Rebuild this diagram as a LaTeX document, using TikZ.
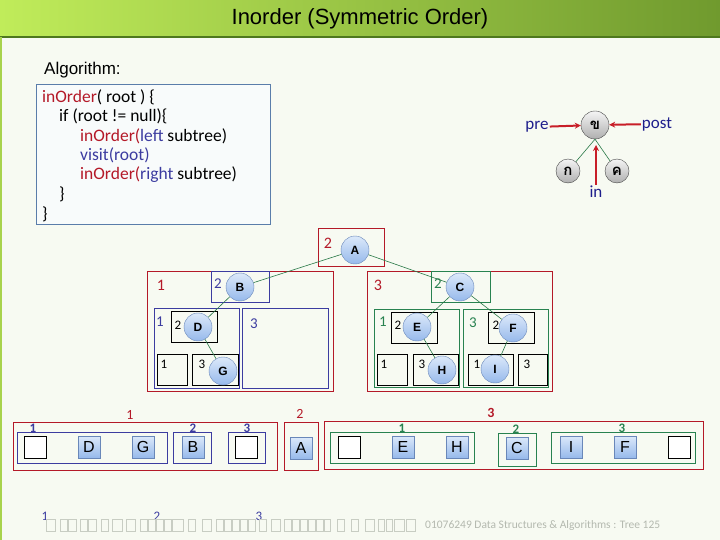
\documentclass[tikz,border=0pt]{standalone}
\usepackage{fontspec}
\setmainfont{Carlito}
\newfontfamily\thaifont[Script=Thai]{Loma}
\newfontfamily\titlefont{Liberation Sans}
\newfontfamily\letfont{Liberation Sans}
\usetikzlibrary{arrows.meta}
\definecolor{bgc}{RGB}{247,250,242}
\definecolor{tl}{RGB}{192,236,90}
\definecolor{tr}{RGB}{112,154,46}
\definecolor{tbline}{RGB}{78,120,30}
\definecolor{codeborder}{RGB}{90,125,170}
\definecolor{codefill}{RGB}{248,251,251}
\definecolor{kred}{RGB}{180,25,40}
\definecolor{kblue}{RGB}{60,60,160}
\definecolor{kgreen}{RGB}{40,130,80}
\definecolor{edgec}{RGB}{40,120,70}
\definecolor{cbord}{RGB}{105,135,185}
\definecolor{ctop}{RGB}{220,233,250}
\definecolor{cbot}{RGB}{150,185,235}
\definecolor{arrred}{RGB}{200,30,40}
\definecolor{navy}{RGB}{30,30,140}
\definecolor{foot}{RGB}{200,205,195}
\tikzset{
  cnode/.style={circle, minimum size=28pt, inner sep=0pt, draw=cbord, top color=ctop, bottom color=cbot, font=\letfont\bfseries\fontsize{12}{14}\selectfont},
  tnode/.style={circle, inner sep=0pt, draw={rgb,255:red,70;green,70;blue,70}, top color={rgb,255:red,245;green,245;blue,245}, bottom color={rgb,255:red,175;green,175;blue,175}, font=\thaifont\bfseries\fontsize{15}{17}\selectfont},
  sq/.style={rectangle, minimum size=22pt, inner sep=0pt, draw=cbord, top color=ctop, bottom color=cbot, font=\letfont\fontsize{16}{18}\selectfont},
  esq/.style={rectangle, minimum size=22pt, inner sep=0pt, draw=black, fill=white},
  redbox/.style={draw=kred, line width=0.8pt},
  bluebox/.style={draw=kblue, line width=0.8pt},
  greenbox/.style={draw=kgreen, line width=0.8pt},
  blkbox/.style={draw=black, line width=0.8pt},
  rlab/.style={text=kred, font=\fontsize{16}{18}\selectfont, inner sep=0pt},
  blab/.style={text=kblue, font=\fontsize{15}{17}\selectfont, inner sep=0pt},
  glab/.style={text=kgreen, font=\fontsize{15}{17}\selectfont, inner sep=0pt},
  klab/.style={text=black, font=\fontsize{13}{15}\selectfont, inner sep=0pt},
  tedge/.style={draw=edgec, line width=0.6pt},
  redarrow/.style={draw=arrred, line width=2pt, -{Stealth[length=6pt,width=6pt]}},
  codeline/.style={anchor=west, inner sep=0pt, font=\fontsize{17.5}{20}\selectfont},
  footbox/.style={draw=foot, line width=0.5pt},
  sidelab/.style={text=navy, font=\fontsize{17}{19}\selectfont, inner sep=1pt}
}
\begin{document}
\begin{tikzpicture}[x=1pt,y=-1pt]
\useasboundingbox (0,0) rectangle (720,540);
\fill[bgc] (0,0) rectangle (720,540);
\shade[left color=tl, right color=tr] (0,0) rectangle (720,37);
\draw[tbline, line width=1.2pt] (0,37) -- (720,37);
\draw[tl!70!tr, line width=2pt] (1,37) -- (1,540);
\node[font=\titlefont\fontsize{22}{24}\selectfont] (title) at (360,19) {Inorder (Symmetric Order)};
\node[anchor=west, inner sep=0pt, font=\titlefont\fontsize{17}{19}\selectfont] (algo) at (44,70) {Algorithm:};

% code box
\draw[codeborder, fill=codefill, line width=0.8pt] (36,84) rectangle (270,224);
\node[codeline] (c1) at (42,97) {\textcolor{kred}{inOrder}( root ) \{};
\node[codeline] (c2) at (59,116.5) {if (root != null)\{};
\node[codeline] (c3) at (80,136) {\textcolor{kred}{inOrder(}\textcolor{kblue}{left} subtree)};
\node[codeline] (c4) at (80,155.5) {\textcolor{kblue}{visit(root)}};
\node[codeline] (c5) at (80,175) {\textcolor{kred}{inOrder(}\textcolor{kblue}{right} subtree)};
\node[codeline] (c6) at (59,194.5) {\}};
\node[codeline] (c7) at (42,214) {\}};

% Thai diagram
\node[tnode, minimum size=28pt] (tk) at (595,125) {ข};
\node[tnode, minimum size=24pt] (tg) at (568,171) {ก};
\node[tnode, minimum size=24pt] (tc) at (617,171) {ค};
\draw[tedge] (tk.south) -- (tg);
\draw[tedge] (tk.south) -- (tc);
\node[sidelab] (pre) at (537,127) {pre};
\node[sidelab] (post) at (657,124) {post};
\node[sidelab] (in) at (596,192) {in};
\coordinate (inend) at (596,145);
\draw[redarrow] (pre) -- (tk);
\draw[redarrow] (post) -- (tk);
\draw[redarrow] (in) -- (inend);

% tree boxes left
\draw[redbox] (318,228) rectangle (384,266);
\node[rlab] (lA) at (328,243) {2};
\draw[redbox] (147,271) rectangle (333,391);
\node[rlab] (lL) at (161,285) {1};
\draw[bluebox] (211,271) rectangle (269,302);
\node[blab] (lB) at (218,284) {2};
\draw[bluebox] (154,308) rectangle (239,388);
\node[blab] (lBL) at (160,322) {1};
\draw[blkbox] (171,311) rectangle (217,342);
\node[klab] (lD) at (178,325) {2};
\draw[blkbox] (157,354) rectangle (187,385);
\node[klab] (lD1) at (164,364) {1};
\draw[blkbox] (192,354) rectangle (238,385);
\node[klab] (lG) at (202,364) {3};
\draw[bluebox] (242,308) rectangle (328,388);
\node[blab] (lBR) at (254,324) {3};

% tree boxes right
\draw[redbox] (367,271) rectangle (552,391);
\node[rlab] (lR) at (378,285) {3};
\draw[greenbox] (431,271) rectangle (490,302);
\node[glab] (lC) at (438,284) {2};
\draw[greenbox] (374,309) rectangle (459,387);
\node[glab] (lCL) at (383,322) {1};
\draw[blkbox] (391,312) rectangle (437,343);
\node[klab] (lE) at (398,325) {2};
\draw[blkbox] (377,354) rectangle (407,385);
\node[klab] (lE1) at (384,364) {1};
\draw[blkbox] (413,354) rectangle (458,385);
\node[klab] (lH) at (422,364) {3};
\draw[greenbox] (463,309) rectangle (548,387);
\node[glab] (lCR) at (473,323) {3};
\draw[blkbox] (488,312) rectangle (534,343);
\node[klab] (lF) at (496,325) {2};
\draw[blkbox] (468,354) rectangle (513,385);
\node[klab] (lI) at (477,364) {1};
\draw[blkbox] (518,354) rectangle (547,385);
\node[klab] (lF3) at (527,364) {3};

% tree nodes
\node[cnode] (A) at (355,250) {A};
\node[cnode] (B) at (240,287) {B};
\node[cnode] (D) at (198,327) {D};
\node[cnode] (G) at (223,371) {G};
\node[cnode] (C) at (460,287) {C};
\node[cnode] (E) at (417,327) {E};
\node[cnode] (H) at (442,370) {H};
\node[cnode] (F) at (513,328) {F};
\node[cnode] (I) at (495,369) {I};
\draw[tedge] (A) -- (B);
\draw[tedge] (A) -- (C);
\draw[tedge] (B) -- (D);
\draw[tedge] (D) -- (G);
\draw[tedge] (C) -- (E);
\draw[tedge] (C) -- (F);
\draw[tedge] (E) -- (H);
\draw[tedge] (F) -- (I);

% bottom row
\draw[redbox] (13,422) rectangle (277,470);
\node[rlab, font=\fontsize{14}{16}\selectfont] (b1) at (130,415) {1};
\draw[bluebox] (17,432) rectangle (167,463);
\node[blab, font=\bfseries\fontsize{13}{15}\selectfont] (b11) at (33,428) {1};
\node[esq] (e1) at (35.5,447) {};
\node[sq] (sD) at (89,447) {D};
\node[sq] (sG) at (143,447) {G};
\draw[bluebox] (173,432) rectangle (211,463);
\node[blab, font=\bfseries\fontsize{13}{15}\selectfont] (b12) at (193,428) {2};
\node[sq] (sB) at (193,447) {B};
\draw[bluebox] (228,432) rectangle (265,463);
\node[blab, font=\bfseries\fontsize{13}{15}\selectfont] (b13) at (247,428) {3};
\node[esq] (e2) at (246.5,447) {};
\draw[redbox] (284,422) rectangle (318,470);
\node[rlab, font=\fontsize{14}{16}\selectfont] (b2) at (300,414) {2};
\node[sq] (sA) at (301,448) {A};
\draw[redbox] (324,421) rectangle (703,469);
\node[rlab, font=\bfseries\fontsize{14}{16}\selectfont] (b3) at (491,413) {3};
\draw[greenbox] (330,432) rectangle (474,463);
\node[glab, font=\bfseries\fontsize{13}{15}\selectfont] (b31) at (402,428) {1};
\node[esq] (e3) at (349,447) {};
\node[sq] (sE) at (403,447) {E};
\node[sq] (sH) at (457,447) {H};
\draw[greenbox] (498,433) rectangle (536,466);
\node[glab, font=\bfseries\fontsize{13}{15}\selectfont] (b32) at (516,429) {2};
\node[sq] (sC) at (517,448) {C};
\draw[greenbox] (551,432) rectangle (695,463);
\node[glab, font=\bfseries\fontsize{13}{15}\selectfont] (b33) at (622,428) {3};
\node[sq] (sI) at (571,447) {I};
\node[sq] (sF) at (625,447) {F};
\node[esq] (e4) at (679,447) {};

% footer
\node[blab, font=\fontsize{13}{15}\selectfont] (f1) at (45,516) {1};
\node[blab, font=\fontsize{13}{15}\selectfont] (f2) at (157,516) {2};
\node[blab, font=\fontsize{13}{15}\selectfont] (f3) at (259,516) {3};
\foreach \a/\b in {46/55,60/67,68/76,80/87,88/96,101/108,112/122,126/135,140/147,148/155,156/163,164/171,172/183,188/195,202/211,216/223,224/231,232/239,240/247,248/255,259/266,271/280,284/291,292/299,300/307,308/315,316/323,324/330,337/344,351/358,365/374,378/384,386/392,394/404,406/415}
  \draw[footbox] (\a,519) rectangle (\b,531);
\node[anchor=west, inner sep=0pt, text=foot!90!black, font=\fontsize{11.5}{13}\selectfont] (ftext) at (425,525) {01076249 Data Structures \& Algorithms : Tree 125};
\end{tikzpicture}
\end{document}
